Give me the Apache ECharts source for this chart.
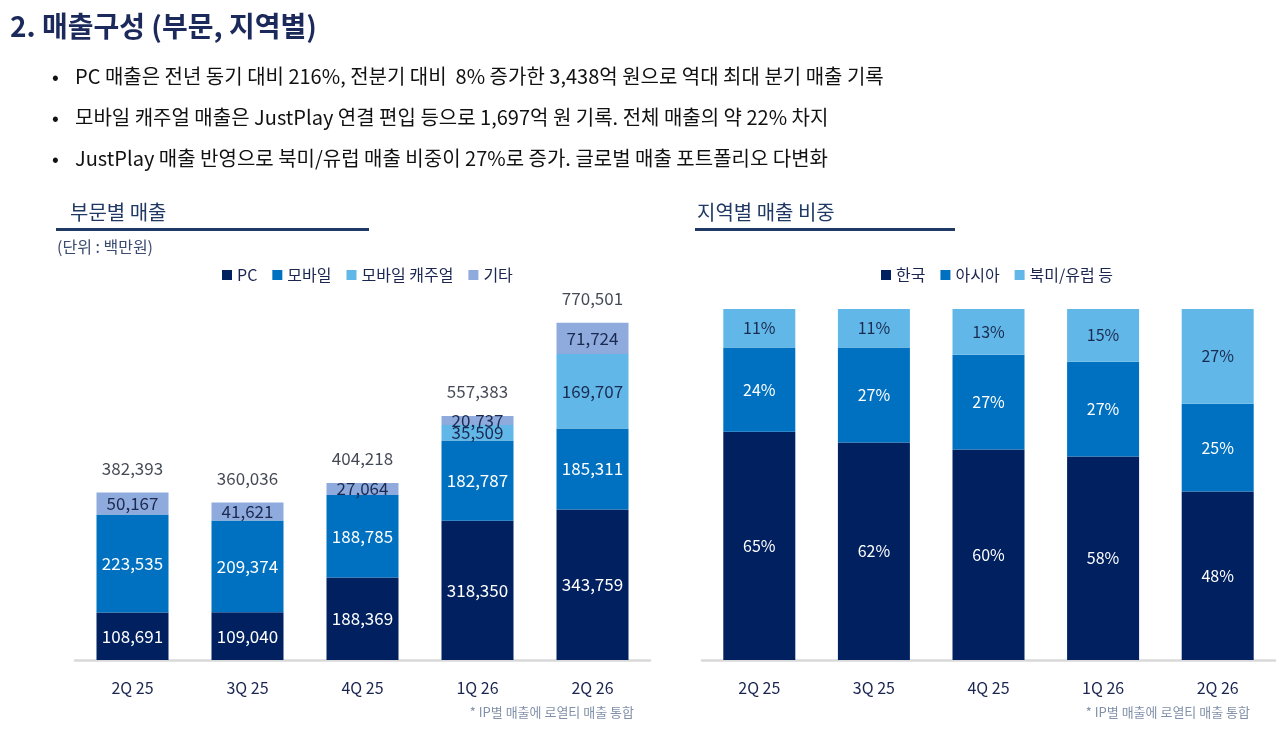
<!DOCTYPE html>
<html><head><meta charset="utf-8">
<script src="https://cdn.jsdelivr.net/npm/echarts@6/dist/echarts.min.js"></script>
<style>
html,body{margin:0;padding:0;background:#fff;}
body{width:1280px;height:729px;position:relative;overflow:hidden;font-family:"Noto Sans CJK KR","Noto Sans",sans-serif;}
.t{position:absolute;white-space:nowrap;}
.b{font-size:20px;line-height:24px;color:#111;}
#main{position:absolute;left:0;top:0;width:1280px;height:729px;}
</style></head><body>
<div id="main"></div>
<div class="t" style="left:10px;top:8px;font-size:28px;line-height:34px;font-weight:700;color:#1b2a5a;">2. 매출구성 (부문, 지역별)</div>
<div class="t b" style="left:52px;top:64px;">•</div>
<div class="t b" style="left:75px;top:64px;">PC 매출은 전년 동기 대비 216%, 전분기 대비&nbsp; 8% 증가한 3,438억 원으로 역대 최대 분기 매출 기록</div>
<div class="t b" style="left:52px;top:105px;">•</div>
<div class="t b" style="left:75px;top:105px;">모바일 캐주얼 매출은 JustPlay 연결 편입 등으로 1,697억 원 기록. 전체 매출의 약 22% 차지</div>
<div class="t b" style="left:52px;top:146px;">•</div>
<div class="t b" style="left:75px;top:146px;">JustPlay 매출 반영으로 북미/유럽 매출 비중이 27%로 증가. 글로벌 매출 포트폴리오 다변화</div>
<div class="t" style="left:70px;top:200px;font-size:20px;line-height:24px;color:#1f3864;">부문별 매출</div>
<div style="position:absolute;left:56px;top:228px;width:313px;height:3px;background:#1f3864;"></div>
<div class="t" style="left:697px;top:200px;font-size:20px;line-height:24px;color:#1f3864;">지역별 매출 비중</div>
<div style="position:absolute;left:695px;top:228px;width:260px;height:3px;background:#1f3864;"></div>
<div class="t" style="left:57px;top:237px;font-size:16px;line-height:18px;color:#3a4a70;">(단위 : 백만원)</div>
<div class="t" style="right:646px;top:704px;font-size:13px;line-height:16px;color:#8090a8;">* IP별 매출에 로열티 매출 통합</div>
<div class="t" style="right:30px;top:704px;font-size:13px;line-height:16px;color:#8090a8;">* IP별 매출에 로열티 매출 통합</div>
<script>
const categories = ['2Q 25','3Q 25','4Q 25','1Q 26','2Q 26'];
const pcSales = [108691,109040,188369,318350,343759];
const mobileSales = [223535,209374,188785,182787,185311];
const casualSales = [0,0,0,35509,169707];
const etcSales = [50167,41621,27064,20737,71724];
const totalSales = [382393,360036,404218,557383,770501];
const koreaShare = [65,62,60,58,48];
const asiaShare = [24,27,27,27,25];
const naEuShare = [11,11,13,15,27];

const C_NAVY='#002060', C_BLUE='#0070C0', C_LIGHT='#61B8E8', C_ETC='#8FAADC';
const FONT='"Noto Sans CJK KR","Noto Sans",sans-serif';
const fmt = v => v ? Number(v).toLocaleString('en-US') : '';
const chart = echarts.init(document.getElementById('main'));
function xAx(gi){return {type:'category',gridIndex:gi,data:categories,
  axisLine:{lineStyle:{color:'#d9d9d9',width:2.5}},axisTick:{show:false},
  axisLabel:{color:'#1a2550',fontSize:16,margin:20,fontFamily:FONT}};}
function yAx(gi,max){return {type:'value',gridIndex:gi,min:0,max:max,show:false,splitLine:{show:false}};}
function barS(name,data,color,labelColor,gi,fs,pct){
  return {name:name,type:'bar',stack:'s'+gi,xAxisIndex:gi,yAxisIndex:gi,data:data,barWidth:72,
    itemStyle:{color:color},
    label:{show:true,position:'inside',color:labelColor,fontSize:fs,fontFamily:FONT,
      formatter:p=> pct ? (p.value+'%') : fmt(p.value)}};
}
chart.setOption({
  animation:false,
  textStyle:{fontFamily:FONT},
  grid:[{left:75,width:575,top:266,bottom:69},{left:702,width:573,top:309,bottom:69}],
  xAxis:[xAx(0),xAx(1)],
  yAxis:[yAx(0,900000),yAx(1,100)],
  legend:[
    {data:['PC','모바일','모바일 캐주얼','기타'],left:217,top:262,icon:'rect',itemWidth:10,itemHeight:10,itemGap:15,
      textStyle:{fontSize:16,color:'#1a2550',fontFamily:FONT},selectedMode:false},
    {data:['한국','아시아','북미/유럽 등'],left:876,top:262,icon:'rect',itemWidth:10,itemHeight:10,itemGap:15,
      textStyle:{fontSize:16,color:'#1a2550',fontFamily:FONT},selectedMode:false}
  ],
  series:[
    barS('PC',pcSales,C_NAVY,'#ffffff',0,17,false),
    barS('모바일',mobileSales,C_BLUE,'#ffffff',0,17,false),
    barS('모바일 캐주얼',casualSales,C_LIGHT,'#1b2a50',0,17,false),
    barS('기타',etcSales,C_ETC,'#1b2a50',0,17,false),
    {name:'합계',type:'scatter',xAxisIndex:0,yAxisIndex:0,data:totalSales,symbolSize:1,
      itemStyle:{color:'rgba(0,0,0,0)'},
      label:{show:true,position:'top',distance:15,color:'#141a2a',fontSize:17,fontFamily:FONT,formatter:p=>fmt(p.value)}},
    barS('한국',koreaShare,C_NAVY,'#ffffff',1,16,true),
    barS('아시아',asiaShare,C_BLUE,'#ffffff',1,16,true),
    barS('북미/유럽 등',naEuShare,C_LIGHT,'#1b2a50',1,16,true)
  ]
});
</script>
</body></html>
